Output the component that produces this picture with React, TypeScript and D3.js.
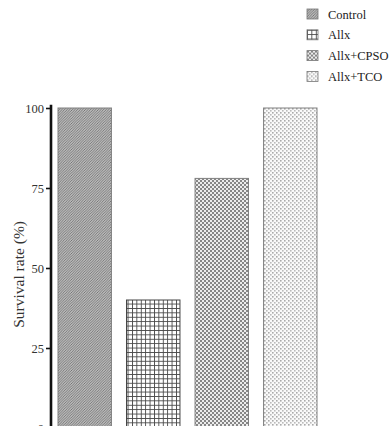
import React, { useEffect, useRef } from 'react';
import * as d3 from 'd3';

const categories = ['Control', 'Allx', 'Allx+CPSO', 'Allx+TCO'];
const survival = [100, 40, 78, 100];
const yTicks = [0, 25, 50, 75, 100];
const patternIds = ['pControl', 'pAllx', 'pCpso', 'pTco'];

const App = () => {
  const ref = useRef<SVGSVGElement | null>(null);

  useEffect(() => {
    const svg = d3.select(ref.current);
    svg.selectAll('*').remove();

    const font = 'Liberation Serif, Times New Roman, serif';
    const defs = svg.append('defs');

    // Control: fine diagonal hatch
    const p1 = defs.append('pattern').attr('id', patternIds[0])
      .attr('patternUnits', 'userSpaceOnUse').attr('width', 2.6).attr('height', 2.6);
    p1.append('rect').attr('width', 2.6).attr('height', 2.6).attr('fill', '#d4d4d4');
    p1.append('path').attr('d', 'M0,2.6 L2.6,0 M-1,1 L1,-1 M1.6,3.6 L3.6,1.6')
      .attr('stroke', '#6e6e6e').attr('stroke-width', 0.9);

    // Allx: grid
    const p2 = defs.append('pattern').attr('id', patternIds[1])
      .attr('patternUnits', 'userSpaceOnUse').attr('width', 4.4).attr('height', 4.4);
    p2.append('rect').attr('width', 4.4).attr('height', 4.4).attr('fill', '#fff');
    p2.append('path').attr('d', 'M0,0 L4.4,0 M0,0 L0,4.4')
      .attr('stroke', '#484848').attr('stroke-width', 1.8);

    // Allx+CPSO: checkerboard
    const p3 = defs.append('pattern').attr('id', patternIds[2])
      .attr('patternUnits', 'userSpaceOnUse').attr('width', 4).attr('height', 4);
    p3.append('rect').attr('width', 4).attr('height', 4).attr('fill', '#ececec');
    p3.append('rect').attr('width', 2).attr('height', 2).attr('fill', '#868686');
    p3.append('rect').attr('x', 2).attr('y', 2).attr('width', 2).attr('height', 2).attr('fill', '#868686');

    // Allx+TCO: sparse dots
    const p4 = defs.append('pattern').attr('id', patternIds[3])
      .attr('patternUnits', 'userSpaceOnUse').attr('width', 4).attr('height', 4);
    p4.append('rect').attr('width', 4).attr('height', 4).attr('fill', '#fafafa');
    p4.append('rect').attr('x', 0).attr('y', 0).attr('width', 1.6).attr('height', 1.6).attr('fill', '#aaa');
    p4.append('rect').attr('x', 2).attr('y', 2).attr('width', 1.6).attr('height', 1.6).attr('fill', '#bbb');

    const x = d3.scaleBand().domain(categories).range([58, 317]).paddingInner(0.22).paddingOuter(0);
    const y = d3.scaleLinear().domain([0, 100]).range([428, 108]);

    // bars
    svg.append('g').selectAll('rect')
      .data(categories)
      .enter()
      .append('rect')
      .attr('x', d => x(d) as number)
      .attr('width', x.bandwidth())
      .attr('y', (d, i) => y(survival[i]))
      .attr('height', (d, i) => y(0) - y(survival[i]))
      .attr('fill', (d, i) => `url(#${patternIds[i]})`)
      .attr('stroke', (d, i) => (i === 1 ? '#444' : '#808080'))
      .attr('stroke-width', 1);

    // y axis
    const axis = svg.append('g').attr('transform', 'translate(51,0)')
      .call(d3.axisLeft(y).tickValues(yTicks).tickSize(5).tickSizeOuter(0).tickPadding(2));
    axis.select('.domain').attr('stroke', '#111').attr('stroke-width', 2.6)
      .attr('d', `M0,${y(101)}V${y(0) + 2}`);
    axis.selectAll('.tick line').attr('stroke', '#111').attr('stroke-width', 1.6);
    axis.selectAll('.tick text').attr('font-family', font).attr('font-size', 12.5).attr('fill', '#333');

    svg.append('text')
      .attr('transform', `translate(24,${y(48)}) rotate(-90)`)
      .attr('text-anchor', 'middle')
      .attr('font-family', font)
      .attr('font-size', 15.5)
      .attr('fill', '#333')
      .text('Survival rate (%)');

    // legend
    const legend = svg.append('g');
    const items = legend.selectAll('g').data(categories).enter().append('g')
      .attr('transform', (d, i) => `translate(307,${9 + i * 20.8})`);
    items.append('rect')
      .attr('width', 11).attr('height', 10)
      .attr('fill', (d, i) => `url(#${patternIds[i]})`)
      .attr('stroke', '#777').attr('stroke-width', 0.8);
    items.append('text')
      .attr('x', 21).attr('y', 9.5)
      .attr('font-family', font)
      .attr('font-size', 12.5)
      .attr('fill', '#222')
      .text(d => d);
  }, []);

  return (
    <svg ref={ref} width={390} height={426}
      style={{ position: 'absolute', left: 0, top: 0, background: '#fff' }} />
  );
};

export default App;
